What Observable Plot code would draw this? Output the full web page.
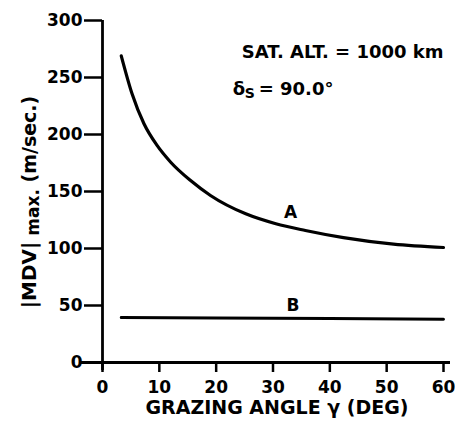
<!DOCTYPE html>
<html>
<head>
<meta charset="utf-8">
<script src="https://cdn.jsdelivr.net/npm/d3@7"></script>
<script src="https://cdn.jsdelivr.net/npm/@observablehq/plot@0.6"></script>
<style>
  html, body { margin: 0; padding: 0; background: #fff; }
</style>
</head>
<body>
<div id="chart"></div>
<script>
// ---- data ----
const angleA = [3.3, 5.2, 7.3, 9.6, 12.0, 15.5, 19.0, 25.2, 30.5, 35.7, 42.4, 51.2, 60];
const mdvA   = [269, 235.7, 209.4, 190.4, 175.7, 159.6, 146.5, 130.4, 121.7, 115.8, 109.5, 103.8, 100.9];
const angleB = [3.3, 20, 40, 60];
const mdvB   = [39.5, 39, 38.5, 38];
const xTicks = [0, 10, 20, 30, 40, 50, 60];
const yTicks = [0, 50, 100, 150, 200, 250, 300];
const xLabel = "GRAZING ANGLE γ (DEG)";
const yLabelMain = "|MDV|";
const yLabelSub = "max.";
const yLabelUnit = "(m/sec.)";
const note1 = "SAT. ALT. = 1000 km";
const note2Sym = "δ";
const note2Sub = "S";
const note2Val = "= 90.0°";
const curveLabels = [{name: "A", x: 33.1, y: 131.6}, {name: "B", x: 33.5, y: 50}];

const seriesA = angleA.map((x, i) => ({x, y: mdvA[i]}));
const seriesB = angleB.map((x, i) => ({x, y: mdvB[i]}));

const FONT = "DejaVu Sans";

const chart = Plot.plot({
  width: 455,
  height: 426,
  marginLeft: 102,
  marginRight: 12,
  marginTop: 20,
  marginBottom: 64,
  style: {fontFamily: FONT, fontWeight: "bold", fontSize: "17px", color: "#000", background: "#fff"},
  x: {domain: [0, 60]},
  y: {domain: [0, 300]},
  marks: [
    Plot.axisX({ticks: xTicks, tickSize: 10, tickPadding: 8, strokeWidth: 2.5, label: null, fontSize: 17}),
    Plot.axisY({ticks: yTicks, tickSize: 18, tickPadding: 2, strokeWidth: 2.5, label: null, fontSize: 17}),
    Plot.ruleX([0], {stroke: "#000", strokeWidth: 2.8, insetBottom: -8}),
    Plot.ruleY([0], {stroke: "#000", strokeWidth: 2.8, insetLeft: -21, insetRight: -7}),
    Plot.line(seriesA, {x: "x", y: "y", curve: "monotone-x", stroke: "#000", strokeWidth: 3.2}),
    Plot.line(seriesB, {x: "x", y: "y", stroke: "#000", strokeWidth: 3}),
    Plot.text(curveLabels, {x: "x", y: "y", text: "name", fontSize: 17, fill: "#000"}),
    Plot.text([note1], {x: () => 60, y: () => 272, textAnchor: "end", fontSize: 18, fill: "#000"}),
    Plot.text([note2Sym], {x: () => 22.9, y: () => 239.5, textAnchor: "start", fontSize: 18, fill: "#000"}),
    Plot.text([note2Sub], {x: () => 22.9, y: () => 239.5, dx: 12, dy: 4, textAnchor: "start", fontSize: 14, fill: "#000"}),
    Plot.text([note2Val], {x: () => 22.9, y: () => 239.5, dx: 26, textAnchor: "start", fontSize: 18, fill: "#000"}),
    Plot.text([xLabel], {frameAnchor: "bottom", dy: 51, dx: 4, fontSize: 19, fill: "#000"})
  ]
});

document.getElementById("chart").appendChild(chart);

// rotated y-axis label with a subscript
const svg = d3.select(chart);
const yl = svg.append("text")
  .attr("transform", "translate(36,202) rotate(-90)")
  .attr("text-anchor", "middle")
  .attr("font-family", FONT)
  .attr("font-weight", "bold")
  .attr("fill", "#000");
yl.append("tspan").attr("font-size", 20).text(yLabelMain);
yl.append("tspan").attr("font-size", 17).attr("dy", 3).text(" " + yLabelSub);
yl.append("tspan").attr("font-size", 19).attr("dy", -3).text(" " + yLabelUnit);
</script>
</body>
</html>
